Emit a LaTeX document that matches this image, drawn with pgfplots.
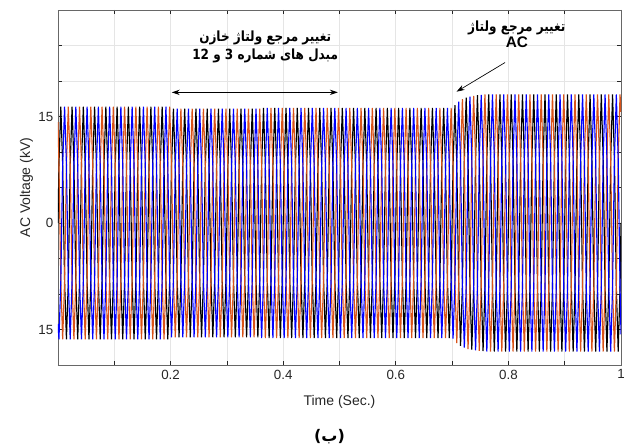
\documentclass[border=0pt]{standalone}
\usepackage{fontspec}
\setmainfont{Liberation Sans}
\newfontfamily\arabicfont[Script=Arabic, FakeStretch=0.86]{DejaVu Sans}
\newfontfamily\arabicwide[Script=Arabic]{DejaVu Sans}
\TeXXeTstate=1
\usepackage{pgfplots}
\usepackage{pgfplotstable}
\pgfplotsset{compat=1.18}
\usetikzlibrary{arrows.meta}
\definecolor{mlorange}{rgb}{0.85,0.325,0.098}
\definecolor{mlgrid}{rgb}{0.9,0.9,0.9}
\definecolor{mlaxis}{rgb}{0.15,0.15,0.15}

% three-phase voltage, 6 samples per cycle (50 Hz), kV
\pgfplotstableread{
t a b c
0.0000 0 -14.2 14.2
0.0017 8.2 -16.4 8.2
0.0050 16.4 -8.2 -8.2
0.0083 8.2 8.2 -16.4
0.0117 -8.2 16.4 -8.2
0.0150 -16.4 8.2 8.2
0.0183 -8.2 -8.2 16.4
0.0217 8.2 -16.4 8.2
0.0250 16.4 -8.2 -8.2
0.0283 8.2 8.2 -16.4
0.0317 -8.2 16.4 -8.2
0.0350 -16.4 8.2 8.2
0.0383 -8.2 -8.2 16.4
0.0417 8.2 -16.4 8.2
0.0450 16.4 -8.2 -8.2
0.0483 8.2 8.2 -16.4
0.0517 -8.2 16.4 -8.2
0.0550 -16.4 8.2 8.2
0.0583 -8.2 -8.2 16.4
0.0617 8.2 -16.4 8.2
0.0650 16.4 -8.2 -8.2
0.0683 8.2 8.2 -16.4
0.0717 -8.2 16.4 -8.2
0.0750 -16.4 8.2 8.2
0.0783 -8.2 -8.2 16.4
0.0817 8.2 -16.4 8.2
0.0850 16.4 -8.2 -8.2
0.0883 8.2 8.2 -16.4
0.0917 -8.2 16.4 -8.2
0.0950 -16.4 8.2 8.2
0.0983 -8.2 -8.2 16.4
0.1017 8.2 -16.4 8.2
0.1050 16.4 -8.2 -8.2
0.1083 8.2 8.2 -16.4
0.1117 -8.2 16.4 -8.2
0.1150 -16.4 8.2 8.2
0.1183 -8.2 -8.2 16.4
0.1217 8.2 -16.4 8.2
0.1250 16.4 -8.2 -8.2
0.1283 8.2 8.2 -16.4
0.1317 -8.2 16.4 -8.2
0.1350 -16.4 8.2 8.2
0.1383 -8.2 -8.2 16.4
0.1417 8.2 -16.4 8.2
0.1450 16.4 -8.2 -8.2
0.1483 8.2 8.2 -16.4
0.1517 -8.2 16.4 -8.2
0.1550 -16.4 8.2 8.2
0.1583 -8.2 -8.2 16.4
0.1617 8.2 -16.4 8.2
0.1650 16.4 -8.2 -8.2
0.1683 8.2 8.2 -16.4
0.1717 -8.2 16.4 -8.2
0.1750 -16.4 8.2 8.2
0.1783 -8.2 -8.2 16.4
0.1817 8.2 -16.4 8.2
0.1850 16.4 -8.2 -8.2
0.1883 8.2 8.2 -16.4
0.1917 -8.2 16.4 -8.2
0.1950 -16.4 8.2 8.2
0.1983 -8.2 -8.2 16.4
0.2017 8.05 -16.1 8.05
0.2050 16.1 -8.05 -8.05
0.2083 8.05 8.05 -16.1
0.2117 -8.05 16.1 -8.05
0.2150 -16.1 8.05 8.05
0.2183 -8.05 -8.05 16.1
0.2217 8.05 -16.1 8.05
0.2250 16.1 -8.05 -8.05
0.2283 8.05 8.05 -16.1
0.2317 -8.05 16.1 -8.05
0.2350 -16.1 8.05 8.05
0.2383 -8.05 -8.05 16.1
0.2417 8.05 -16.1 8.05
0.2450 16.1 -8.05 -8.05
0.2483 8.05 8.05 -16.1
0.2517 -8.05 16.1 -8.05
0.2550 -16.1 8.05 8.05
0.2583 -8.05 -8.05 16.1
0.2617 8.05 -16.1 8.05
0.2650 16.1 -8.05 -8.05
0.2683 8.05 8.05 -16.1
0.2717 -8.05 16.1 -8.05
0.2750 -16.1 8.05 8.05
0.2783 -8.05 -8.05 16.1
0.2817 8.05 -16.1 8.05
0.2850 16.1 -8.05 -8.05
0.2883 8.05 8.05 -16.1
0.2917 -8.05 16.1 -8.05
0.2950 -16.1 8.05 8.05
0.2983 -8.05 -8.05 16.1
0.3017 8.05 -16.1 8.05
0.3050 16.1 -8.05 -8.05
0.3083 8.05 8.05 -16.1
0.3117 -8.05 16.1 -8.05
0.3150 -16.1 8.05 8.05
0.3183 -8.05 -8.05 16.1
0.3217 8.05 -16.1 8.05
0.3250 16.1 -8.05 -8.05
0.3283 8.05 8.05 -16.1
0.3317 -8.05 16.1 -8.05
0.3350 -16.1 8.05 8.05
0.3383 -8.05 -8.05 16.1
0.3417 8.05 -16.1 8.05
0.3450 16.1 -8.05 -8.05
0.3483 8.05 8.05 -16.1
0.3517 -8.05 16.1 -8.05
0.3550 -16.1 8.05 8.05
0.3583 -8.05 -8.05 16.1
0.3617 8.1 -16.2 8.1
0.3650 16.2 -8.1 -8.1
0.3683 8.1 8.1 -16.2
0.3717 -8.1 16.2 -8.1
0.3750 -16.2 8.1 8.1
0.3783 -8.1 -8.1 16.2
0.3817 8.1 -16.2 8.1
0.3850 16.2 -8.1 -8.1
0.3883 8.1 8.1 -16.2
0.3917 -8.1 16.2 -8.1
0.3950 -16.2 8.1 8.1
0.3983 -8.1 -8.1 16.2
0.4017 8.1 -16.2 8.1
0.4050 16.2 -8.1 -8.1
0.4083 8.1 8.1 -16.2
0.4117 -8.1 16.2 -8.1
0.4150 -16.2 8.1 8.1
0.4183 -8.1 -8.1 16.2
0.4217 8.1 -16.2 8.1
0.4250 16.2 -8.1 -8.1
0.4283 8.1 8.1 -16.2
0.4317 -8.1 16.2 -8.1
0.4350 -16.2 8.1 8.1
0.4383 -8.1 -8.1 16.2
0.4417 8.1 -16.2 8.1
0.4450 16.2 -8.1 -8.1
0.4483 8.1 8.1 -16.2
0.4517 -8.1 16.2 -8.1
0.4550 -16.2 8.1 8.1
0.4583 -8.1 -8.1 16.2
0.4617 8.1 -16.2 8.1
0.4650 16.2 -8.1 -8.1
0.4683 8.1 8.1 -16.2
0.4717 -8.1 16.2 -8.1
0.4750 -16.2 8.1 8.1
0.4783 -8.1 -8.1 16.2
0.4817 8.1 -16.2 8.1
0.4850 16.2 -8.1 -8.1
0.4883 8.1 8.1 -16.2
0.4917 -8.1 16.2 -8.1
0.4950 -16.2 8.1 8.1
0.4983 -8.1 -8.1 16.2
0.5017 8.1 -16.2 8.1
0.5050 16.2 -8.1 -8.1
0.5083 8.1 8.1 -16.2
0.5117 -8.1 16.2 -8.1
0.5150 -16.2 8.1 8.1
0.5183 -8.1 -8.1 16.2
0.5217 8.1 -16.2 8.1
0.5250 16.2 -8.1 -8.1
0.5283 8.1 8.1 -16.2
0.5317 -8.1 16.2 -8.1
0.5350 -16.2 8.1 8.1
0.5383 -8.1 -8.1 16.2
0.5417 8.1 -16.2 8.1
0.5450 16.2 -8.1 -8.1
0.5483 8.1 8.1 -16.2
0.5517 -8.1 16.2 -8.1
0.5550 -16.2 8.1 8.1
0.5583 -8.1 -8.1 16.2
0.5617 8.1 -16.2 8.1
0.5650 16.2 -8.1 -8.1
0.5683 8.1 8.1 -16.2
0.5717 -8.1 16.2 -8.1
0.5750 -16.2 8.1 8.1
0.5783 -8.1 -8.1 16.2
0.5817 8.1 -16.2 8.1
0.5850 16.2 -8.1 -8.1
0.5883 8.1 8.1 -16.2
0.5917 -8.1 16.2 -8.1
0.5950 -16.2 8.1 8.1
0.5983 -8.1 -8.1 16.2
0.6017 8.1 -16.2 8.1
0.6050 16.2 -8.1 -8.1
0.6083 8.1 8.1 -16.2
0.6117 -8.1 16.2 -8.1
0.6150 -16.2 8.1 8.1
0.6183 -8.1 -8.1 16.2
0.6217 8.1 -16.2 8.1
0.6250 16.2 -8.1 -8.1
0.6283 8.1 8.1 -16.2
0.6317 -8.1 16.2 -8.1
0.6350 -16.2 8.1 8.1
0.6383 -8.1 -8.1 16.2
0.6417 8.1 -16.2 8.1
0.6450 16.2 -8.1 -8.1
0.6483 8.1 8.1 -16.2
0.6517 -8.1 16.2 -8.1
0.6550 -16.2 8.1 8.1
0.6583 -8.1 -8.1 16.2
0.6617 8.1 -16.2 8.1
0.6650 16.2 -8.1 -8.1
0.6683 8.1 8.1 -16.2
0.6717 -8.1 16.2 -8.1
0.6750 -16.2 8.1 8.1
0.6783 -8.1 -8.1 16.2
0.6817 8.1 -16.2 8.1
0.6850 16.2 -8.1 -8.1
0.6883 8.1 8.1 -16.2
0.6917 -8.1 16.2 -8.1
0.6950 -16.2 8.1 8.1
0.6983 -8.1 -8.1 16.2
0.7017 8.15 -16.3 8.15
0.7050 16.6 -8.3 -8.3
0.7083 8.45 8.45 -16.9
0.7117 -8.55 17.1 -8.55
0.7150 -17.3 8.65 8.65
0.7183 -8.73 -8.73 17.45
0.7217 8.78 -17.55 8.78
0.7250 17.65 -8.83 -8.83
0.7283 8.88 8.88 -17.75
0.7317 -8.9 17.8 -8.9
0.7350 -17.85 8.93 8.93
0.7383 -8.95 -8.95 17.9
0.7417 8.98 -17.95 8.98
0.7450 18.0 -9.0 -9.0
0.7483 9.0 9.0 -18.0
0.7517 -9.03 18.05 -9.03
0.7550 -18.05 9.03 9.03
0.7583 -9.05 -9.05 18.1
0.7617 9.05 -18.1 9.05
0.7650 18.1 -9.05 -9.05
0.7683 9.05 9.05 -18.1
0.7717 -9.05 18.1 -9.05
0.7750 -18.1 9.05 9.05
0.7783 -9.05 -9.05 18.1
0.7817 9.05 -18.1 9.05
0.7850 18.1 -9.05 -9.05
0.7883 9.05 9.05 -18.1
0.7917 -9.05 18.1 -9.05
0.7950 -18.1 9.05 9.05
0.7983 -9.05 -9.05 18.1
0.8017 9.05 -18.1 9.05
0.8050 18.1 -9.05 -9.05
0.8083 9.05 9.05 -18.1
0.8117 -9.05 18.1 -9.05
0.8150 -18.1 9.05 9.05
0.8183 -9.05 -9.05 18.1
0.8217 9.05 -18.1 9.05
0.8250 18.1 -9.05 -9.05
0.8283 9.05 9.05 -18.1
0.8317 -9.05 18.1 -9.05
0.8350 -18.1 9.05 9.05
0.8383 -9.05 -9.05 18.1
0.8417 9.05 -18.1 9.05
0.8450 18.1 -9.05 -9.05
0.8483 9.05 9.05 -18.1
0.8517 -9.05 18.1 -9.05
0.8550 -18.1 9.05 9.05
0.8583 -9.05 -9.05 18.1
0.8617 9.05 -18.1 9.05
0.8650 18.1 -9.05 -9.05
0.8683 9.05 9.05 -18.1
0.8717 -9.05 18.1 -9.05
0.8750 -18.1 9.05 9.05
0.8783 -9.05 -9.05 18.1
0.8817 9.05 -18.1 9.05
0.8850 18.1 -9.05 -9.05
0.8883 9.05 9.05 -18.1
0.8917 -9.05 18.1 -9.05
0.8950 -18.1 9.05 9.05
0.8983 -9.05 -9.05 18.1
0.9017 9.05 -18.1 9.05
0.9050 18.1 -9.05 -9.05
0.9083 9.05 9.05 -18.1
0.9117 -9.05 18.1 -9.05
0.9150 -18.1 9.05 9.05
0.9183 -9.05 -9.05 18.1
0.9217 9.05 -18.1 9.05
0.9250 18.1 -9.05 -9.05
0.9283 9.05 9.05 -18.1
0.9317 -9.05 18.1 -9.05
0.9350 -18.1 9.05 9.05
0.9383 -9.05 -9.05 18.1
0.9417 9.05 -18.1 9.05
0.9450 18.1 -9.05 -9.05
0.9483 9.05 9.05 -18.1
0.9517 -9.05 18.1 -9.05
0.9550 -18.1 9.05 9.05
0.9583 -9.05 -9.05 18.1
0.9617 9.05 -18.1 9.05
0.9650 18.1 -9.05 -9.05
0.9683 9.05 9.05 -18.1
0.9717 -9.05 18.1 -9.05
0.9750 -18.1 9.05 9.05
0.9783 -9.05 -9.05 18.1
0.9817 9.05 -18.1 9.05
0.9850 18.1 -9.05 -9.05
0.9883 9.05 9.05 -18.1
0.9917 -9.05 18.1 -9.05
0.9950 -18.1 9.05 9.05
0.9983 -9.05 -9.05 18.1
1.0000 0 -15.67 15.67
}\volt

\begin{document}
\begin{tikzpicture}
\begin{axis}[
  name=ax,
  scale only axis,
  width=422.25pt, height=266.25pt,
  xmin=0, xmax=1, ymin=-20, ymax=30,
  xtick={0.2,0.4,0.6,0.8,1},
  xticklabels={0.2,0.4,0.6,0.8,1},
  minor xtick={0.1,0.3,0.5,0.7,0.9},
  ytick={-15,0,15},
  yticklabels={15,0,15},
  minor ytick={-20,-10,-5,5,10,20,25,30},
  grid=both,
  major grid style={mlgrid, line width=0.5pt},
  minor grid style={mlgrid, line width=0.5pt},
  axis line style={mlaxis!70, line width=0.6pt},
  tick style={mlaxis, line width=0.6pt},
  major tick length=3pt, minor tick length=3pt,
  tick align=inside,
  /pgf/number format/assume math mode=true,
  tick label style={font=\fontsize{10}{12}\selectfont, text=mlaxis},
  xlabel={Time (Sec.)},
  ylabel={AC Voltage (kV)},
  label style={font=\fontsize{10.5}{12}\selectfont, text=mlaxis},
  xlabel style={at={(axis description cs:0.5,-0.104)}, anchor=center},
  ylabel style={at={(axis description cs:-0.036,0.5)}, anchor=south},
]
\addplot[black, line width=0.85pt] table[x=t, y=a] {\volt};
\addplot[mlorange, line width=0.85pt] table[x=t, y=c] {\volt};
\addplot[blue, line width=0.85pt] table[x=t, y=b] {\volt};

\draw[{Stealth[length=6pt,width=4pt]}-{Stealth[length=6pt,width=4pt]}, line width=0.6pt]
  (axis cs:0.202,18.4) -- (axis cs:0.497,18.4);
\node[font=\arabicfont\bfseries\fontsize{10.5}{14}\selectfont, align=center]
  at (axis cs:0.368,24.8)
  {\beginR تغییر مرجع ولتاژ خازن\endR\\\beginR مبدل های شماره 3 و \beginL 12\endL{}\endR};
\draw[-{Stealth[length=6pt,width=4pt]}, line width=0.5pt]
  (axis cs:0.794,22.6) -- (axis cs:0.708,18.5);
\node[font=\bfseries\fontsize{10.5}{12.5}\selectfont, align=center]
  at (axis cs:0.815,26.6)
  {{\arabicfont\beginR تغییر مرجع ولتاژ\endR}\\{\fontsize{11.5}{12}\selectfont AC}};
\end{axis}
\node[font=\arabicwide\bfseries\fontsize{12}{14}\selectfont]
  at ([shift={(-7.5pt,-54pt)}]ax.south) {\beginR(ب)\endR};
\pgfresetboundingbox
\path[use as bounding box] ([shift={(-43.5pt,-61.5pt)}]ax.south west)
  rectangle ([shift={(6.75pt,7.5pt)}]ax.north east);
\end{tikzpicture}
\end{document}
